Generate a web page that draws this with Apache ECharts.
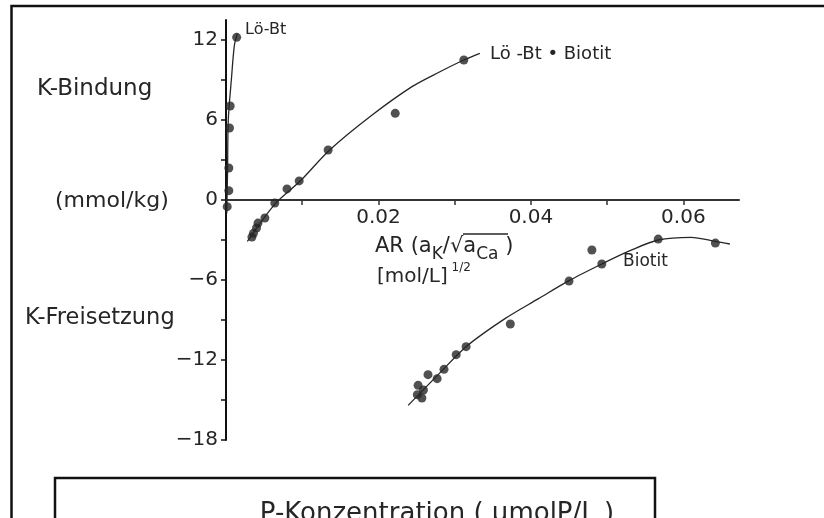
<!DOCTYPE html>
<html>
<head>
<meta charset="utf-8">
<script src="https://cdn.jsdelivr.net/npm/echarts@6/dist/echarts.min.js"></script>
<style>
    html, body { margin: 0; padding: 0; background: #fff; }
    #chart { width: 824px; height: 518px; }
</style>
</head>
<body>
<div id="chart"></div>
<script>
// points: [AR, K (mmol/kg)]
const loBtPoints = [[0.00016, -0.5], [0.00037, 0.7], [0.00037, 2.4], [0.00046, 5.4], [0.00055, 7.05], [0.0014, 12.2]];
const loBtCurve = [[0.0001, -1.0], [0.0002, 2.0], [0.0003, 6.0], [0.0007, 9.0], [0.0011, 11.6], [0.0015, 12.5]];

const loBtBiotitPoints = [[0.0034, -2.78], [0.0036, -2.5], [0.0040, -2.1], [0.0042, -1.73], [0.0051, -1.35],
    [0.0064, -0.23], [0.0080, 0.83], [0.0096, 1.43], [0.0134, 3.75], [0.0222, 6.5], [0.0312, 10.5]];
const loBtBiotitCurve = [[0.0028, -3.1], [0.0065, -0.25], [0.0097, 1.4], [0.0136, 3.75], [0.0190, 6.3],
    [0.0244, 8.5], [0.0280, 9.6], [0.0312, 10.5], [0.0333, 11.0]];

const biotitPoints = [[0.0251, -14.6], [0.0257, -14.85], [0.0259, -14.25], [0.0252, -13.9], [0.0265, -13.1],
    [0.0277, -13.4], [0.0286, -12.7], [0.0302, -11.6], [0.0315, -11.0], [0.0373, -9.3], [0.0450, -6.08],
    [0.0480, -3.75], [0.0493, -4.8], [0.0567, -2.93], [0.0642, -3.23]];
const biotitCurve = [[0.0239, -15.4], [0.0280, -13.0], [0.0315, -11.0], [0.0366, -8.9], [0.0410, -7.4],
    [0.0450, -6.05], [0.0493, -4.8], [0.0530, -3.8], [0.0567, -3.0], [0.0610, -2.8], [0.0642, -3.1], [0.0661, -3.3]];

const xTicks = [0.01, 0.02, 0.03, 0.04, 0.05, 0.06];
const xLabels = [0.02, 0.04, 0.06];
const yTicks = [-18, -15, -12, -9, -6, -3, 0, 3, 6, 9, 12];
const yLabels = [-18, -12, -6, 0, 6, 12];

const ink = '#262626';
const font = 'DejaVu Sans';

function dots(data) {
    return { type: 'scatter', data: data, symbolSize: 9, itemStyle: { color: ink }, z: 3 };
}
function curve(data) {
    return { type: 'line', data: data, smooth: 0.3, showSymbol: false, lineStyle: { color: ink, width: 1.3 }, z: 2 };
}

let option = {
    backgroundColor: '#fff',
    animation: false,
    grid: { left: 226, right: 85, top: 20, bottom: 78 },
    xAxis: {
        type: 'value', min: 0, max: 0.0673,
        // grid bottom sits at -18, pull the axis up to the zero line
        offset: -240,
        splitLine: { show: false },
        axisLine: { onZero: false, lineStyle: { color: '#333', width: 2 } },
        axisTick: { customValues: xTicks, length: 5, lineStyle: { color: '#333', width: 1.5 } },
        axisLabel: {
            customValues: xLabels, margin: 8, color: ink, fontFamily: font, fontSize: 20,
            formatter: v => v.toFixed(2)
        }
    },
    yAxis: {
        type: 'value', min: -18, max: 13.5,
        splitLine: { show: false },
        axisLine: { onZero: false, lineStyle: { color: '#111', width: 2 } },
        axisTick: { customValues: yTicks, length: 5, lineStyle: { color: '#111', width: 1.5 } },
        axisLabel: {
            customValues: yLabels, margin: 8, color: ink, fontFamily: font, fontSize: 20,
            formatter: v => v < 0 ? '\u2212' + (-v) : String(v)
        }
    },
    series: [
        curve(loBtCurve), dots(loBtPoints),
        curve(loBtBiotitCurve), dots(loBtBiotitPoints),
        curve(biotitCurve), dots(biotitPoints)
    ],
    graphic: [
        { type: 'rect', shape: { x: 11.5, y: 6, width: 900, height: 600 }, style: { fill: 'none', stroke: '#111', lineWidth: 2.5 } },
        { type: 'rect', shape: { x: 55, y: 478, width: 600, height: 100 }, style: { fill: 'none', stroke: '#111', lineWidth: 2.5 } },
        { type: 'text', x: 37, y: 89, style: { text: 'K-Bindung', font: '23px "DejaVu Sans"', fill: ink, verticalAlign: 'middle' } },
        { type: 'text', x: 55, y: 201, style: { text: '(mmol/kg)', font: '22px "DejaVu Sans"', fill: ink, verticalAlign: 'middle' } },
        { type: 'text', x: 25, y: 318, style: { text: 'K-Freisetzung', font: '22.5px "DejaVu Sans"', fill: ink, verticalAlign: 'middle' } },
        { type: 'text', x: 245, y: 30, style: { text: 'Lö-Bt', font: '16px "DejaVu Sans"', fill: ink, verticalAlign: 'middle' } },
        { type: 'text', x: 490, y: 54, style: { text: 'Lö -Bt • Biotit', font: '18px "DejaVu Sans"', fill: ink, verticalAlign: 'middle' } },
        { type: 'text', x: 623, y: 262, style: { text: 'Biotit', font: '17px "DejaVu Sans"', fill: ink, verticalAlign: 'middle' } },
        {
            type: 'text', x: 375, y: 247,
            style: {
                text: '{n|AR (a}{s|K}{n|/√a}{s|Ca}{n| )}', verticalAlign: 'middle', fill: ink,
                rich: {
                    n: { fontFamily: font, fontSize: 21, lineHeight: 30, fill: ink },
                    s: { fontFamily: font, fontSize: 17, lineHeight: 32, verticalAlign: 'bottom', fill: ink }
                }
            }
        },
        { type: 'line', shape: { x1: 463, y1: 234, x2: 508, y2: 234 }, style: { stroke: ink, lineWidth: 1.5 } },
        {
            type: 'text', x: 377, y: 277,
            style: {
                text: '{n|[mol/L]}{p| 1/2}', verticalAlign: 'middle', fill: ink,
                rich: {
                    n: { fontFamily: font, fontSize: 20, lineHeight: 30, fill: ink },
                    p: { fontFamily: font, fontSize: 12, lineHeight: 30, verticalAlign: 'top', fill: ink }
                }
            }
        },
        { type: 'text', x: 437, y: 514, style: { text: 'P-Konzentration ( μmolP/L )', font: '26px "DejaVu Sans"', fill: ink, align: 'center', verticalAlign: 'middle' } }
    ]
};

let chart = echarts.init(document.getElementById('chart'));
chart.setOption(option);
</script>
</body>
</html>
